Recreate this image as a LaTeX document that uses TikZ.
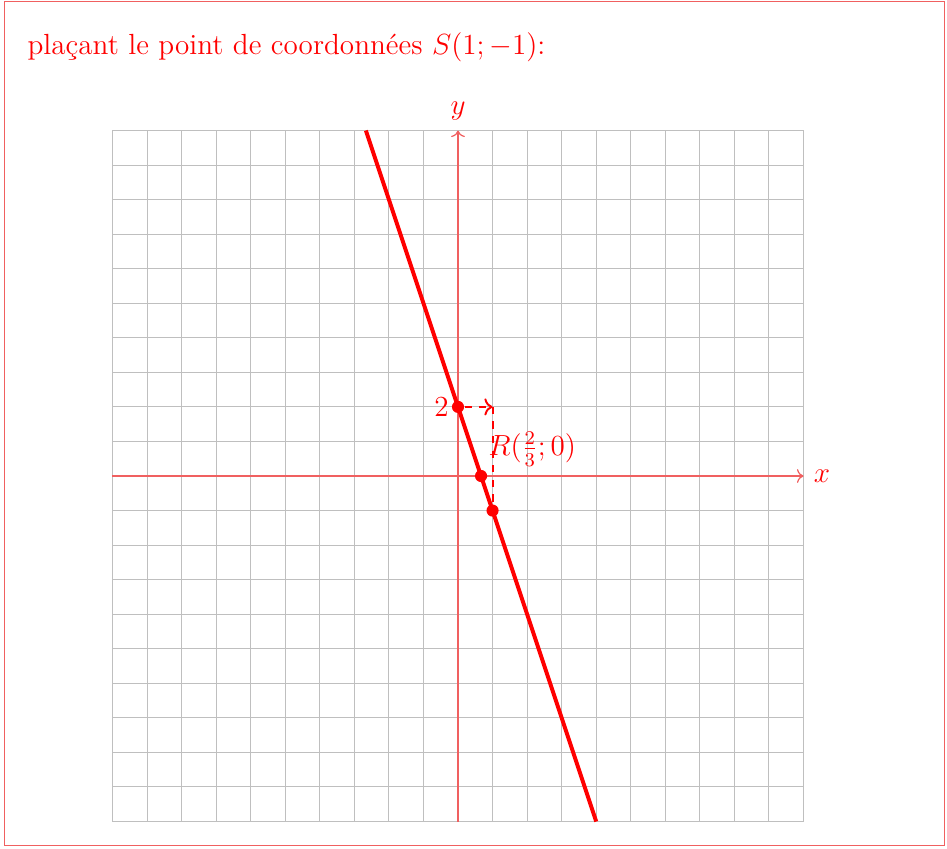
\documentclass[tikz,border=0pt,12pt]{standalone}
\usepackage{amsmath,amssymb}
\usepackage{xcolor}
\usepackage{tikz}
\usetikzlibrary{calc,arrows.meta,positioning}
\definecolor{rouge}{HTML}{FF0000}
\definecolor{rougeclair}{HTML}{F06060}
\tikzset{
  grille/.style={gray!50,line width=0.4pt},
  axe/.style={->,rougeclair,line width=0.5pt},
  droite/.style={rouge,line width=1.6pt},
  pointille/.style={rouge,dashed,line width=0.8pt},
  pt/.style={circle,fill=rouge,inner sep=0pt,minimum size=5pt}
}
\begin{document}
\begin{tikzpicture}[x=0.5cm,y=0.5cm]
\useasboundingbox (-13.256,-10.767) rectangle (14.153,13.777);
\draw[rougeclair,line width=0.4pt] (-13.14,-10.70) rectangle (14.07,13.72);
\node[anchor=base west,text=rouge,inner sep=0pt] (titre) at (-12.47,12.2) {pla\c{c}ant le point de coordonn\'ees $S(1;-1)$:};
% quadrillage
\draw[grille,step=1] (-10,-10) grid (10,10);
\draw[axe] (-10,0) -- (10,0) node[right,text=rouge] (lx) {$x$};
\draw[axe] (0,-10) -- (0,10) node[above,text=rouge] (ly) {$y$};
% droite y=-3x+2
\coordinate (P) at (-8/3,10);
\coordinate (Q) at (4,-10);
\draw[droite] (P) -- (Q);
\node[pt,label={[text=rouge,inner sep=1pt]left:$2$}] (A) at (0,2) {};
\node[pt,label={[text=rouge,inner sep=0pt,xshift=1pt,yshift=2pt]above right:$R(\frac{2}{3};0)$}] (R) at (2/3,0) {};
\node[pt] (S) at (1,-1) {};
\coordinate (H) at (1,2);
\draw[pointille,->] (A) -- (H);
\draw[pointille] (H) -- (S);
\end{tikzpicture}
\end{document}
